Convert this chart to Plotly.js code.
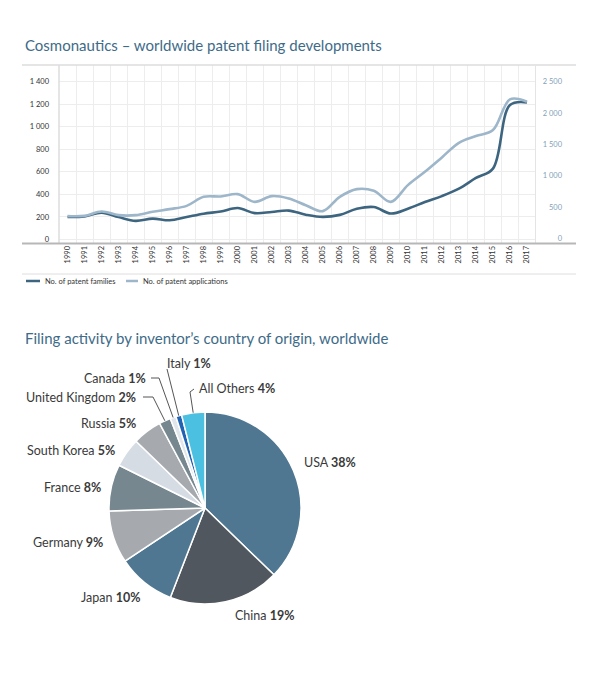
<!DOCTYPE html>
<html>
<head>
<meta charset="utf-8">
<script src="https://cdn.plot.ly/plotly-3.0.1.min.js"></script>
<style>
html,body{margin:0;padding:0;background:#fff;}
#chart{width:600px;height:694px;}
</style>
</head>
<body>
<div id="chart"></div>
<script>
// ---- data ----
const years = ['1990','1991','1992','1993','1994','1995','1996','1997','1998','1999','2000','2001','2002','2003','2004','2005','2006','2007','2008','2009','2010','2011','2012','2013','2014','2015','2016','2017'];
const patentFamilies = [199,204,238,199,165,185,170,199,229,248,279,234,244,256,220,200,218,272,288,230,273,332,385,451,546,629,1193,1217];
const patentApplications = [356,361,431,372,372,425,468,520,664,670,707,584,675,638,531,436,664,787,760,584,851,1063,1293,1526,1633,1728,2218,2180];
const seriesNames = ['No. of patent families','No. of patent applications'];

const countries = ['USA','China','Japan','Germany','France','South Korea','Russia','United Kingdom','Canada','Italy','All Others'];
const shares = [38,19,10,9,8,5,5,2,1,1,4];

const title1 = 'Cosmonautics – worldwide patent filing developments';
const title2 = 'Filing activity by inventor’s country of origin, worldwide';

// ---- styles / layout ----
const W = 600, H = 694;
const px = x => x / W;
const py = y => 1 - y / H;
const FONT = 'Lato, "Open Sans", sans-serif';
const darkLine = '#3d6580';
const lightLine = '#9db6c9';
const sliceColors = ['#4f7791','#50575f','#4f7791','#a6aaaf','#77878f','#d6dce4','#a6aaaf','#77878f','#e1e6ec','#2262b2','#4cc0e0'];

// pie geometry (pixels)
const pieBox = {x0:109, x1:301, y0:412, y1:604};
const cx = (pieBox.x0 + pieBox.x1) / 2, cy = (pieBox.y0 + pieBox.y1) / 2, R = (pieBox.x1 - pieBox.x0) / 2;

// label placement (pixels) – layout only
const labelPlace = {
  'USA':            {x:302, y:462, a:'left'},
  'China':          {x:233, y:615, a:'left'},
  'Japan':          {x:142, y:597, a:'right'},
  'Germany':        {x:105, y:542, a:'right'},
  'France':         {x:103, y:487, a:'right'},
  'South Korea':    {x:117, y:450, a:'right'},
  'Russia':         {x:138, y:423, a:'right'},
  'United Kingdom': {x:138, y:397, a:'right', leader:[[143,397],[153,397]]},
  'Canada':         {x:148, y:378, a:'right', leader:[[151,378],[159,378]]},
  'Italy':          {x:165, y:363, a:'left',  leader:[[167,369]]},
  'All Others':     {x:197, y:389, a:'left',  leader:[[194,389],[190,392]]}
};

const traces = [
  {type:'scatter', mode:'lines', x:years, y:patentApplications, name:seriesNames[1], yaxis:'y2',
   line:{color:lightLine, width:2.6, shape:'spline', smoothing:1}, hoverinfo:'x+y'},
  {type:'scatter', mode:'lines', x:years, y:patentFamilies, name:seriesNames[0], yaxis:'y',
   line:{color:darkLine, width:2.6, shape:'spline', smoothing:1}, hoverinfo:'x+y'},
  {type:'pie', labels:countries, values:shares, sort:false, direction:'clockwise', rotation:0,
   domain:{x:[px(pieBox.x0), px(pieBox.x1)], y:[py(pieBox.y1), py(pieBox.y0)]},
   marker:{colors:sliceColors, line:{color:'#ffffff', width:1.5}},
   textinfo:'none', hoverinfo:'label+value', showlegend:false}
];

const shapes = [];
const annotations = [];

// frame lines of the line chart
const lineShape = (x0,y0,x1,y1,color,width) => ({type:'line', xref:'paper', yref:'paper',
  x0:px(x0), y0:py(y0), x1:px(x1), y1:py(y1), line:{color:color, width:width}, layer:'above'});
shapes.push(lineShape(22,65,576,65,'#dcdcdc',1.5));
shapes.push(lineShape(59,65,59,243,'#dcdcdc',1.5));
shapes.push(lineShape(535.5,65,535.5,243,'#e4e4e4',1));
shapes.push(lineShape(22,243.5,576,243.5,'#b7b7b7',2));
shapes.push(lineShape(22,274,576,274,'#dedede',1));

// custom legend
shapes.push(lineShape(26,281,40,281,darkLine,2.5));
shapes.push(lineShape(126,281,138,281,lightLine,2.5));
annotations.push({xref:'paper', yref:'paper', x:px(43), y:py(281), xanchor:'left', yanchor:'middle',
  text:seriesNames[0], showarrow:false, font:{family:FONT, size:7.5, color:'#333'}});
annotations.push({xref:'paper', yref:'paper', x:px(141), y:py(281), xanchor:'left', yanchor:'middle',
  text:seriesNames[1], showarrow:false, font:{family:FONT, size:7.5, color:'#333'}});

// titles
annotations.push({xref:'paper', yref:'paper', x:px(23), y:py(45), xanchor:'left', yanchor:'middle',
  text:title1, showarrow:false, font:{family:FONT, size:15, color:'#3e6b88'}});
annotations.push({xref:'paper', yref:'paper', x:px(23), y:py(338), xanchor:'left', yanchor:'middle',
  text:title2, showarrow:false, font:{family:FONT, size:15, color:'#3e6b88'}});

// pie labels with leader lines computed from slice angles
const total = shares.reduce((a,b)=>a+b,0);
let cum = 0;
countries.forEach((c,i) => {
  const mid = (cum + shares[i]/2) / total * 2 * Math.PI;
  cum += shares[i];
  const ex = cx + R * Math.sin(mid), ey = cy - R * Math.cos(mid);
  const p = labelPlace[c];
  annotations.push({xref:'paper', yref:'paper', x:px(p.x), y:py(p.y), xanchor:p.a, yanchor:'middle',
    text:c + ' <b>' + shares[i] + '%</b>', showarrow:false, font:{family:FONT, size:12.5, color:'#3a3a3a'}});
  if (p.leader) {
    const pts = p.leader.concat([[ex,ey]]);
    const d = pts.map((q,k)=> (k? 'L':'M') + px(q[0]).toFixed(5) + ',' + py(q[1]).toFixed(5)).join(' ');
    shapes.push({type:'path', xref:'paper', yref:'paper', path:d, line:{color:'#555', width:1}});
  }
});

const layout = {
  width:W, height:H, margin:{l:0, r:0, t:0, b:0},
  paper_bgcolor:'#fff', plot_bgcolor:'rgba(0,0,0,0)',
  showlegend:false, separators:'. ',
  font:{family:FONT, color:'#333'},
  xaxis:{type:'category', domain:[px(59), px(535.5)], range:[-0.5, years.length-0.5],
    tickson:'boundaries', ticks:'', showgrid:true, gridcolor:'#ededed', gridwidth:1,
    tickangle:-90, tickfont:{family:FONT, size:7.5, color:'#333'}, showline:false, zeroline:false,
    fixedrange:true},
  yaxis:{domain:[py(243.5), py(65)], range:[-36, 1549], tick0:0, dtick:200,
    showgrid:true, gridcolor:'#ededed', gridwidth:1, zeroline:false, showline:false, ticks:'',
    separatethousands:true, tickfont:{family:FONT, size:7.5, color:'#333'}, ticklabelstandoff:9,
    fixedrange:true},
  yaxis2:{overlaying:'y', anchor:'free', position:px(564), side:'left', range:[-80, 2766],
    tick0:0, dtick:500, showgrid:false, zeroline:false, showline:false, ticks:'',
    separatethousands:true, tickfont:{family:FONT, size:7.5, color:'#839fb8'}, ticklabelstandoff:2,
    fixedrange:true},
  shapes:shapes, annotations:annotations
};

Plotly.newPlot('chart', traces, layout, {displayModeBar:false, staticPlot:true});
</script>
</body>
</html>
